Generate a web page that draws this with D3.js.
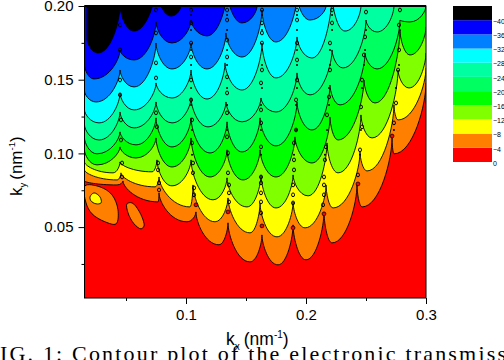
<!DOCTYPE html>
<html>
<head>
<meta charset="utf-8">
<script src="https://cdn.jsdelivr.net/npm/d3@7"></script>
<style>
  html, body { margin: 0; padding: 0; background: #fff; overflow: hidden; }
  text { font-family: "Liberation Sans", Arial, sans-serif; fill: #000; }
</style>
</head>
<body>
<script>
// contour lines as [kx, ky], alternating cusp and trough
const lineMinus4 = [[.0154,.0813],[.0425,.0786],[.0475,.0813],[.0767,.0671],[.0775,.0732],[.1008,.0536],[.1083,.0603],[.1275,.038],[.135,.0529],[.1533,.0264],[.1633,.0447],[.1767,.0244],[.1892,.0515],[.2,.0278],[.215,.0603],[.2217,.0393],[.2425,.0786],[.2467,.0637],[.2717,.1105],[.2733,.0997],[.3,.1478]];
const lineMinus8 = [[.0154,.0888],[.0425,.082],[.0458,.0868],[.0742,.0773],[.0775,.084],[.1033,.0637],[.1058,.0786],[.1242,.0536],[.135,.0698],[.1533,.0461],[.1617,.0664],[.1758,.0434],[.1892,.0671],[.1992,.0495],[.2167,.0786],[.2225,.063],[.245,.101],[.2508,.0881],[.2733,.1329],[.2767,.1227],[.3,.158]];
const lineMinus12 = [[.0154,.0942],[.0392,.0868],[.045,.0942],[.0717,.0875],[.0758,.0956],[.0883,.078],[.1042,.0956],[.1225,.0685],[.1342,.0834],[.1508,.0637],[.1625,.0854],[.175,.063],[.1892,.0854],[.2017,.0712],[.2175,.1071],[.2267,.0868],[.2458,.1261],[.255,.1105],[.2767,.1566],[.2858,.1444],[.3,.1681]];
const lineMinus16 = [[.0154,.1024],[.0258,.0922],[.045,.1044],[.0583,.0969],[.075,.1105],[.0883,.0908],[.1042,.1105],[.12,.084],[.1342,.1024],[.1475,.082],[.1617,.1024],[.175,.084],[.1908,.1112],[.205,.0935],[.22,.1247],[.2267,.1091],[.2483,.1498],[.2575,.1342],[.2783,.1837],[.2867,.1668],[.3,.1858]];
const lineMinus20 = [[.0154,.1105],[.0258,.0997],[.045,.1146],[.0583,.1058],[.075,.1241],[.0883,.1044],[.1042,.1241],[.12,.1003],[.1342,.1214],[.1467,.101],[.1617,.1241],[.175,.1051],[.1925,.1349],[.205,.1159],[.22,.1464],[.2283,.1329],[.2492,.1681],[.2592,.1573],[.2783,.1905],[.2867,.1892],[.3,.2]];
const lineMinus24 = [[.0154,.1193],[.0275,.1091],[.045,.1281],[.0567,.1173],[.075,.1349],[.0883,.1207],[.1042,.1376],[.1183,.118],[.1333,.1349],[.1467,.1214],[.1625,.1376],[.175,.1281],[.1925,.1546],[.2033,.1397],[.2217,.1702],[.2308,.158],[.25,.1905],[.2592,.1824],[.2733,.2]];
const lineMinus28 = [[.0154,.1295],[.0275,.1207],[.045,.141],[.0567,.1295],[.075,.1478],[.0883,.1376],[.1042,.1566],[.1175,.1369],[.1325,.1614],[.1467,.143],[.1633,.1749],[.175,.1512],[.1925,.179],[.205,.1647],[.2217,.2075],[.2325,.183],[.2458,.2]];
const lineMinus32 = [[.0154,.1424],[.025,.1349],[.045,.1566],[.0567,.1451],[.075,.1749],[.0883,.1573],[.1042,.1749],[.1175,.1573],[.1333,.1817],[.1467,.1654],[.1633,.1973],[.175,.1756],[.1925,.2075],[.2033,.1905],[.2167,.2]];
const lineMinus36 = [[.0154,.16],[.0233,.1505],[.045,.1702],[.0567,.1634],[.075,.1892],[.0883,.1749],[.1042,.1905],[.1175,.1797],[.1342,.2108],[.1467,.1885],[.1592,.2]];
const lineMinus40 = [[.0175,.2],[.0175,.1777],[.0267,.1681],[.045,.2],[.0567,.183],[.075,.2142],[.0875,.1932],[.0958,.2]];

// closed loops in the lower left
const islandLeft = [[.0158,.078],[.0283,.0773],[.0383,.0719],[.0433,.0617],[.0417,.0522],[.0325,.0536],[.0217,.059],[.0167,.0664]];
const islandYellow = [[.02,.0705],[.0233,.0732],[.0283,.0705],[.0292,.0664],[.025,.0658],[.0208,.0678]];
const islandMiddle = [[.0508,.0658],[.055,.0664],[.0617,.0596],[.065,.0508],[.0625,.0488],[.0567,.0522],[.0517,.0596]];

// little rings strung along the spikes
const rings = [
  [.045,.1871],[.045,.1702],[.045,.1498],[.045,.1397],[.0458,.1227],[.0458,.1091],[.0467,.0935],[.0467,.084],
  [.075,.1973],[.075,.1817],[.075,.1614],[.075,.1512],[.075,.1275],[.0758,.118],[.0767,.0935],[.0767,.0888],[.0775,.08],[.0775,.0752],
  [.1042,.1973],[.1042,.1885],[.1042,.1749],[.1042,.1654],[.1042,.1498],[.1042,.1363],[.105,.1227],[.105,.1071],[.1058,.0935],[.1058,.0868],[.1067,.0766],[.1067,.0719],
  [.1342,.1973],[.1342,.1905],[.1342,.1769],[.1342,.1654],[.1342,.1519],[.1342,.141],[.1342,.1275],[.1342,.1112],[.135,.1003],[.135,.0868],[.1358,.0786],[.1358,.0732],[.1358,.0671],
  [.1633,.1973],[.1633,.1885],[.1633,.1817],[.1633,.1749],[.1633,.1566],[.1625,.1478],[.1625,.1295],[.1625,.1207],[.1625,.1044],[.1625,.084],[.1625,.08],[.1625,.0732],[.1625,.0671],[.1625,.0596],
  [.1925,.1973],[.1925,.1905],[.1925,.1749],[.1925,.1634],[.1925,.1498],[.1917,.1363],[.1917,.1159],[.19,.1071],[.19,.0956],[.19,.0888],[.1892,.0786],[.1892,.0719],[.1892,.0664],
  [.2217,.1973],[.2217,.1885],[.22,.1749],[.22,.1566],[.2192,.1383],[.2175,.1261],[.2167,.1044],[.2158,.0956],[.215,.084],[.215,.0786],[.215,.0719],[.2142,.0651],
  [.25,.1959],[.2492,.179],[.2483,.1668],[.2467,.1498],[.2458,.1315],[.2467,.118],[.245,.1024],[.2433,.0854],
  [.2783,.1973],[.2775,.1871],[.2775,.1702],[.2767,.1566],[.275,.1342],[.2733,.1207]
];
const specks = [
  [.1042,.1939],[.1042,.1837],[.1042,.1702],[.1042,.16],[.1042,.1444],[.1042,.1329],[.105,.1159],[.105,.099],
  [.1342,.1939],[.1342,.1837],[.1342,.1702],[.1342,.16],[.1342,.1444],[.1342,.1329],[.1342,.1159],[.135,.099],
  [.1633,.1939],[.1633,.1837],[.1633,.1702],[.1633,.16],[.1633,.1444],[.1625,.1329],[.1625,.1159],[.1625,.099],
  [.1925,.1939],[.1925,.1837],[.1925,.1702],[.1925,.16],[.1925,.1444],[.1917,.1329],[.1917,.1159],[.19,.099],
  [.2217,.1939],[.2217,.1837],[.22,.1702],[.22,.16],[.2192,.1444],[.2192,.1329],[.2175,.1159],[.2158,.099],
  [.25,.1837],[.2492,.1702],[.2483,.16],[.2467,.1444],[.2458,.1159],[.245,.099],
  [.2783,.1837],[.2775,.16],[.275,.1444],[.2733,.1159]
];
const redRings = [[.1083,.0651],[.135,.0603],[.1633,.0508],[.1892,.0495],[.215,.059],[.2433,.0793],[.2717,.1118]];

const bandColors = ['#ff0000', '#ff8000', '#ffff00', '#80ff00', '#00ff00', '#00ff60', '#00ffa0', '#00ffff', '#0080ff', '#0000ff', '#000000'];
const legendTicks = [0, -4, -8, -12, -16, -20, -24, -28, -32, -36, -40];
const xMajor = [0.1, 0.2, 0.3];
const xMinor = [0.05, 0.15, 0.25];
const yMajor = [0.05, 0.10, 0.15, 0.20];
const yMinor = [0.025, 0.075, 0.125, 0.175];

const contourLines = [lineMinus4, lineMinus8, lineMinus12, lineMinus16, lineMinus20, lineMinus24, lineMinus28, lineMinus32, lineMinus36, lineMinus40];

const width = 504, height = 360;
const plotLeft = 84.5, plotRight = 426, plotTop = 6, plotBottom = 298;

const x = d3.scaleLinear().domain([0.0154, 0.30]).range([plotLeft, plotRight]);
const y = d3.scaleLinear().domain([0.0019, 0.20]).range([plotBottom, plotTop]);

// round bottoms and steep sides: flat at a trough, vertical at a cusp
const curveScallop = (context) => {
  let x0, y0, n;
  return {
    areaStart() {},
    areaEnd() {},
    lineStart() { n = 0; },
    lineEnd() {},
    point(px, py) {
      const dx = px - x0, dy = py - y0;
      if (n === 0) {
        context.moveTo(px, py);
      } else if (dy > 0) {
        context.bezierCurveTo(x0, y0 + dy * 0.3, px - dx * 0.6, py, px, py);
      } else {
        context.bezierCurveTo(x0 + dx * 0.6, y0, px, py - dy * 0.3, px, py);
      }
      x0 = px;
      y0 = py;
      n++;
    }
  };
};

const contourPath = d3.line().x((d) => x(d[0])).y((d) => y(d[1])).curve(curveScallop);
const loopPath = d3.line().x((d) => x(d[0])).y((d) => y(d[1])).curve(d3.curveCatmullRomClosed);

const svg = d3.select('body').append('svg')
  .attr('width', width)
  .attr('height', height)
  .style('display', 'block');

svg.append('clipPath').attr('id', 'plot-clip')
  .append('rect')
  .attr('x', plotLeft).attr('y', plotTop)
  .attr('width', plotRight - plotLeft).attr('height', plotBottom - plotTop);

const plot = svg.append('g').attr('clip-path', 'url(#plot-clip)');

plot.append('rect')
  .attr('x', plotLeft).attr('y', plotTop)
  .attr('width', plotRight - plotLeft).attr('height', plotBottom - plotTop)
  .attr('fill', bandColors[0]);

// each band covers everything above its line, deeper bands paint over
plot.selectAll('.band')
  .data(contourLines)
  .join('path')
  .attr('class', 'band')
  .attr('fill', (d, i) => bandColors[i + 1])
  .attr('d', (d) => contourPath(d) + `L${plotRight},${plotTop}L${plotLeft},${plotTop}Z`);

plot.selectAll('.contour')
  .data(contourLines)
  .join('path')
  .attr('class', 'contour')
  .attr('fill', 'none')
  .attr('stroke', '#000')
  .attr('stroke-width', 0.9)
  .attr('d', contourPath);

plot.selectAll('.island')
  .data([[islandLeft, bandColors[1]], [islandYellow, bandColors[2]], [islandMiddle, bandColors[1]]])
  .join('path')
  .attr('class', 'island')
  .attr('fill', (d) => d[1])
  .attr('stroke', '#000')
  .attr('stroke-width', 0.9)
  .attr('d', (d) => loopPath(d[0]));

plot.selectAll('.ring')
  .data(rings)
  .join('ellipse')
  .attr('class', 'ring')
  .attr('cx', (d) => x(d[0]))
  .attr('cy', (d) => y(d[1]))
  .attr('rx', 1.5)
  .attr('ry', 1.9)
  .attr('fill', 'none')
  .attr('stroke', '#000')
  .attr('stroke-width', 1);

plot.selectAll('.speck')
  .data(specks)
  .join('circle')
  .attr('class', 'speck')
  .attr('cx', (d) => x(d[0]))
  .attr('cy', (d) => y(d[1]))
  .attr('r', 1)
  .attr('fill', '#000');

plot.selectAll('.red-ring')
  .data(redRings)
  .join('circle')
  .attr('class', 'red-ring')
  .attr('cx', (d) => x(d[0]))
  .attr('cy', (d) => y(d[1]))
  .attr('r', 1.9)
  .attr('fill', bandColors[0])
  .attr('stroke', '#000')
  .attr('stroke-width', 0.8);

// frame
svg.append('rect')
  .attr('x', plotLeft).attr('y', plotTop)
  .attr('width', plotRight - plotLeft).attr('height', plotBottom - plotTop)
  .attr('fill', 'none')
  .attr('stroke', '#000')
  .attr('stroke-width', 1);

svg.append('line')
  .attr('x1', plotLeft).attr('x2', plotRight).attr('y1', plotTop).attr('y2', plotTop)
  .attr('stroke', '#000').attr('stroke-width', 2);

// axes
const xAxis = svg.append('g').attr('transform', `translate(0,${plotBottom})`)
  .call(d3.axisBottom(x).tickValues(xMajor).tickSize(6).tickPadding(5).tickFormat(d3.format('.1f')));
const xAxisMinor = svg.append('g').attr('transform', `translate(0,${plotBottom})`)
  .call(d3.axisBottom(x).tickValues(xMinor).tickSize(3).tickFormat(''));
const yAxis = svg.append('g').attr('transform', `translate(${plotLeft},0)`)
  .call(d3.axisLeft(y).tickValues(yMajor).tickSize(6).tickPadding(5).tickFormat(d3.format('.2f')));
const yAxisMinor = svg.append('g').attr('transform', `translate(${plotLeft},0)`)
  .call(d3.axisLeft(y).tickValues(yMinor).tickSize(3).tickFormat(''));

[xAxis, xAxisMinor, yAxis, yAxisMinor].forEach((a) => {
  a.select('.domain').remove();
  a.selectAll('line').attr('stroke', '#000');
  a.selectAll('text').attr('font-size', 15).attr('font-family', '"Liberation Sans", Arial, sans-serif').attr('fill', '#000');
});

// axis titles
const yTitle = svg.append('text')
  .attr('transform', 'translate(22,196) rotate(-90)')
  .attr('font-size', 17);
yTitle.append('tspan').text('k');
yTitle.append('tspan').attr('font-size', 9.5).attr('dy', 4).text('y');
yTitle.append('tspan').attr('dy', -4).attr('dx', 3).text('(nm');
yTitle.append('tspan').attr('font-size', 9.5).attr('dy', -7).text('-1');
yTitle.append('tspan').attr('dy', 7).text(')');

const xTitle = svg.append('text')
  .attr('x', 226).attr('y', 345)
  .attr('font-size', 17.5);
xTitle.append('tspan').text('k');
xTitle.append('tspan').attr('font-size', 10).attr('dy', 5).text('x');
xTitle.append('tspan').attr('dy', -5).attr('dx', 4).text('(nm');
xTitle.append('tspan').attr('font-size', 10).attr('dy', -7).text('-1');
xTitle.append('tspan').attr('dy', 7).text(')');

// legend
const legendX = 453, legendW = 39;
const legendScale = d3.scaleLinear().domain([0, -44]).range([162, 6]);

svg.selectAll('.legend-cell')
  .data(bandColors)
  .join('rect')
  .attr('class', 'legend-cell')
  .attr('x', legendX)
  .attr('width', legendW)
  .attr('y', (d, i) => legendScale(-4 * (i + 1)))
  .attr('height', (d, i) => legendScale(-4 * i) - legendScale(-4 * (i + 1)))
  .attr('fill', (d) => d);

const legendAxis = svg.append('g')
  .attr('transform', `translate(${legendX + legendW},1)`)
  .call(d3.axisRight(legendScale).tickValues(legendTicks).tickSize(0).tickPadding(1).tickFormat(d3.format('d')));
legendAxis.select('.domain').remove();
legendAxis.selectAll('text').attr('font-size', 7).attr('fill', '#222').attr('font-family', '"Liberation Sans", Arial, sans-serif');

// caption of the paper page, cut off by the crop
svg.append('text')
  .attr('x', 0).attr('y', 361)
  .attr('font-size', 22)
  .attr('textLength', 506)
  .attr('lengthAdjust', 'spacing')
  .style('font-family', '"Liberation Serif", serif')
  .text('IG. 1: Contour plot of the electronic transmiss');
</script>
</body>
</html>
